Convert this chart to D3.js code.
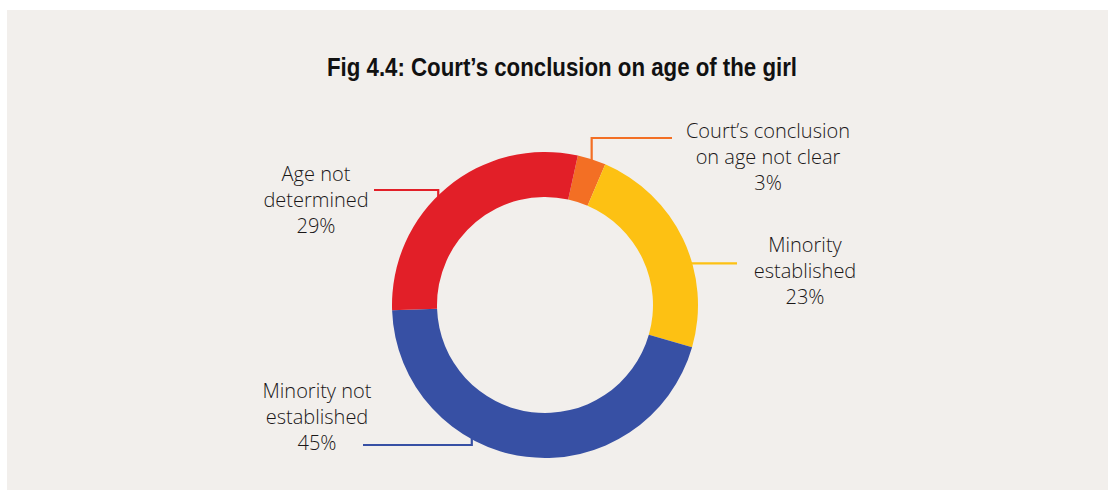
<!DOCTYPE html>
<html>
<head>
<meta charset="utf-8">
<script src="https://cdn.jsdelivr.net/npm/d3@7"></script>
<style>
  body { margin: 0; background: #ffffff; }
  svg { display: block; }
</style>
</head>
<body>
<script>
// -------------------- DATA --------------------
var categories = ["Court\u2019s conclusion on age not clear", "Minority established", "Minority not established", "Age not determined"];
var values = [3, 23, 45, 29];
var labelLines = [
  ["Court\u2019s conclusion", "on age not clear", "3%"],
  ["Minority", "established", "23%"],
  ["Minority not", "established", "45%"],
  ["Age not", "determined", "29%"]
];
var colors = ["#F36F24", "#FDC113", "#3750A4", "#E21F28"];
var title = "Fig 4.4: Court\u2019s conclusion on age of the girl";

// -------------------- LAYOUT --------------------
var w = 1108, h = 493;
var cx = 545, cy = 305;
var outerR = 153, innerR = 108;
var startDeg = 12.4;

// label layout: leader angle (deg from top), elbow y, end x, text centre, first baseline
var labelPos = [
  { ang: 18,  elbowY: 138, endX: 672, tx: 768, ty: 138 },
  { ang: 74,  elbowY: null, endX: 737, tx: 805, ty: 252 },
  { ang: 209, elbowY: 445, endX: 363, tx: 317, ty: 398 },
  { ang: 315, elbowY: 190, endX: 374, tx: 316, ty: 181 }
];
var lineH = 26;

var svg = d3.select("body").append("svg")
  .attr("width", w)
  .attr("height", h);

// panel
svg.append("rect")
  .attr("x", 7).attr("y", 10)
  .attr("width", w - 7).attr("height", 480)
  .attr("fill", "#F2EFEC");

// title (condensed look squeezed to the reference width)
svg.append("text")
  .attr("x", 562).attr("y", 76)
  .attr("text-anchor", "middle")
  .attr("font-family", "'Liberation Sans', Arial, sans-serif")
  .attr("font-weight", "bold")
  .attr("font-size", "25px")
  .attr("textLength", 470)
  .attr("lengthAdjust", "spacingAndGlyphs")
  .attr("fill", "#111")
  .text(title);

// -------------------- DONUT --------------------
var pie = d3.pie()
  .sort(null)
  .value(function(d){ return d; })
  .startAngle(startDeg * Math.PI / 180)
  .endAngle(startDeg * Math.PI / 180 + 2 * Math.PI);

var arc = d3.arc().innerRadius(innerR).outerRadius(outerR);

var g = svg.append("g").attr("transform", "translate(" + cx + "," + cy + ")");

g.selectAll("path.slice")
  .data(pie(values))
  .enter()
  .append("path")
  .attr("class", "slice")
  .attr("d", arc)
  .attr("fill", function(d, i){ return colors[i]; })
  .attr("stroke", "none");

// -------------------- LEADERS + LABELS --------------------
labelPos.forEach(function(p, i) {
  var a = p.ang * Math.PI / 180;
  var x0 = cx + Math.sin(a) * (outerR - 2);
  var y0 = cy - Math.cos(a) * (outerR - 2);
  var ey = p.elbowY === null ? y0 : p.elbowY;
  var pts = [[x0, y0], [x0, ey], [p.endX, ey]];

  svg.append("path")
    .attr("d", d3.line()(pts))
    .attr("fill", "none")
    .attr("stroke", colors[i])
    .attr("stroke-width", 2.2);

  var t = svg.append("text")
    .attr("text-anchor", "middle")
    .attr("font-family", "'Open Sans', 'Noto Sans', sans-serif")
    .attr("font-weight", 300)
    .attr("font-size", "20px")
    .attr("fill", "#1A1718");

  labelLines[i].forEach(function(line, j) {
    t.append("tspan")
      .attr("x", p.tx)
      .attr("y", p.ty + j * lineH)
      .text(line);
  });
});
</script>
</body>
</html>
